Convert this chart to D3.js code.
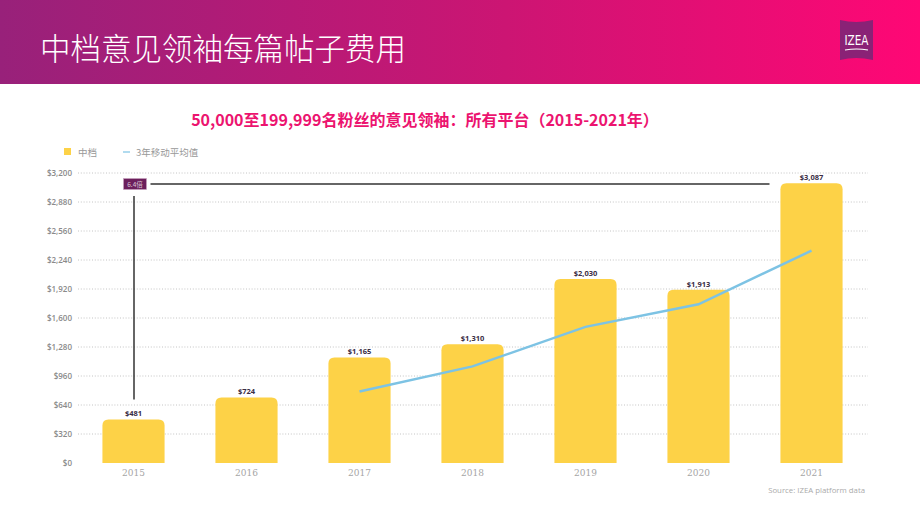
<!DOCTYPE html>
<html lang="zh">
<head>
<meta charset="utf-8">
<title>中档意见领袖每篇帖子费用</title>
<script src="https://cdnjs.cloudflare.com/ajax/libs/d3/7.8.5/d3.min.js"></script>
<style>
  html, body { margin: 0; padding: 0; background: #fff; }
  svg { display: block; }
  .grid line { stroke: #c4c4c4; stroke-dasharray: 1 1.8; }
  .y-axis text { fill: #8a8a8a; font: 600 8px "Open Sans", sans-serif; }
  .x-axis text { fill: #a5a5a5; font: 9px "DejaVu Serif", "Liberation Serif", serif; }
</style>
</head>
<body>
<div id="chart"></div>
<script>
const width = 920;
const height = 518;

// data
const years = ["2015", "2016", "2017", "2018", "2019", "2020", "2021"];
const midTier = [481, 724, 1165, 1310, 2030, 1913, 3087];
const avgYears = ["2017", "2018", "2019", "2020", "2021"];
const movingAvg = [790, 1066, 1502, 1751, 2343];
const yTicks = [0, 320, 640, 960, 1280, 1600, 1920, 2240, 2560, 2880, 3200];

const svg = d3.select("#chart").append("svg")
  .attr("width", width)
  .attr("height", height)
  .attr("viewBox", [0, 0, width, height]);

// header band
const grad = svg.append("defs").append("linearGradient")
  .attr("id", "hdr").attr("x1", "0%").attr("x2", "100%");
grad.append("stop").attr("offset", "0%").attr("stop-color", "#98217a");
grad.append("stop").attr("offset", "55%").attr("stop-color", "#cc1573");
grad.append("stop").attr("offset", "100%").attr("stop-color", "#ff0775");

svg.append("rect").attr("width", width).attr("height", 84).attr("fill", "url(#hdr)");
svg.append("text")
  .attr("x", 40).attr("y", 60)
  .attr("fill", "#fff")
  .style("font", "300 30.5px 'Noto Sans CJK SC', sans-serif")
  .text("中档意见领袖每篇帖子费用");

// logo
const logo = svg.append("g").attr("transform", "translate(840,20)");
logo.append("path")
  .attr("d", "M0,0 Q16,4 33,0 L33,40 Q16,36 0,40 Z")
  .attr("fill", "#8a2276");
logo.append("text")
  .attr("x", 16.5).attr("y", 25)
  .attr("text-anchor", "middle")
  .attr("fill", "#fff")
  .attr("textLength", 24)
  .attr("lengthAdjust", "spacingAndGlyphs")
  .style("font", "14px 'DejaVu Sans Condensed', 'DejaVu Sans', sans-serif")
  .text("IZEA");
logo.append("path")
  .attr("d", "M5,30 Q16.5,28 28,30")
  .attr("fill", "none").attr("stroke", "#fff").attr("stroke-width", 1.2);

// subtitle
svg.append("text")
  .attr("x", 425).attr("y", 126)
  .attr("text-anchor", "middle")
  .attr("fill", "#ec146f")
  .style("font", "700 16px 'Noto Sans CJK SC', sans-serif")
  .text("50,000至199,999名粉丝的意见领袖：所有平台（2015-2021年）");

// legend
const legend = svg.append("g").style("font", "9.5px 'Noto Sans CJK SC', sans-serif").attr("fill", "#999");
legend.append("rect").attr("x", 64).attr("y", 148).attr("width", 7).attr("height", 7).attr("fill", "#fdd247");
legend.append("text").attr("x", 78).attr("y", 155.5).text("中档");
legend.append("line").attr("x1", 123).attr("x2", 130).attr("y1", 152).attr("y2", 152)
  .attr("stroke", "#7dc3e4").attr("stroke-width", 1.2);
legend.append("text").attr("x", 136).attr("y", 155.5).text("3年移动平均值");

// scales
const x = d3.scaleBand().domain(years).range([77, 868]).paddingInner(0.45).paddingOuter(0.225);
const y = d3.scaleLinear().domain([0, 3200]).range([463, 173]);

// grid
svg.append("g").attr("class", "grid")
  .selectAll("line").data(yTicks.slice(1)).join("line")
  .attr("x1", 78).attr("x2", 868)
  .attr("y1", d => y(d)).attr("y2", d => y(d));

// y axis
svg.append("g").attr("class", "y-axis")
  .attr("transform", "translate(72,0)")
  .call(d3.axisLeft(y).tickValues(yTicks).tickSize(0).tickPadding(0)
    .tickFormat(d => "$" + d3.format(",")(d)))
  .call(g => g.select(".domain").remove());

// x axis
svg.append("g").attr("class", "x-axis")
  .attr("transform", "translate(0,466)")
  .call(d3.axisBottom(x).tickSize(0).tickPadding(4))
  .call(g => g.select(".domain").remove());

// bars with rounded tops
const r = 6;
svg.append("g").selectAll("path").data(years).join("path")
  .attr("fill", "#fdd247")
  .attr("d", (d, i) => {
    const x0 = x(d), w = x.bandwidth(), y0 = y(midTier[i]), yb = y(0);
    return `M${x0},${yb} L${x0},${y0 + r} Q${x0},${y0} ${x0 + r},${y0} L${x0 + w - r},${y0} Q${x0 + w},${y0} ${x0 + w},${y0 + r} L${x0 + w},${yb} Z`;
  });

// value labels
svg.append("g").selectAll("text").data(years).join("text")
  .attr("x", d => x(d) + x.bandwidth() / 2)
  .attr("y", (d, i) => y(midTier[i]) - 3)
  .attr("text-anchor", "middle")
  .attr("fill", "#3a2d45")
  .style("font", "700 7.5px 'Open Sans', sans-serif")
  .text((d, i) => "$" + d3.format(",")(midTier[i]));

// moving average line
const line = d3.line()
  .x(d => x(d[0]) + x.bandwidth() / 2)
  .y(d => y(d[1]));
svg.append("path")
  .datum(avgYears.map((d, i) => [d, movingAvg[i]]))
  .attr("fill", "none")
  .attr("stroke", "#7dc3e4")
  .attr("stroke-width", 2.5)
  .attr("d", line);

// 6.4x annotation
const cx15 = x("2015") + x.bandwidth() / 2;
const cx21 = x("2021") + x.bandwidth() / 2;
const annY = 184;
svg.append("line")
  .attr("x1", cx15 + 0.5).attr("x2", cx15 + 0.5)
  .attr("y1", 196).attr("y2", y(midTier[0]) - 20)
  .attr("stroke", "#333").attr("stroke-width", 1.5);
svg.append("line")
  .attr("x1", cx15 + 17).attr("x2", cx21 - 42)
  .attr("y1", annY).attr("y2", annY)
  .attr("stroke", "#333").attr("stroke-width", 1.5);
svg.append("rect")
  .attr("x", cx15 - 10).attr("y", annY - 5.5)
  .attr("width", 23).attr("height", 11)
  .attr("fill", "#6c1f5c").attr("stroke", "#c9a3c0").attr("stroke-width", 0.6);
svg.append("text")
  .attr("x", cx15 + 1.5).attr("y", annY + 2.5)
  .attr("text-anchor", "middle")
  .attr("fill", "#d9c6d6")
  .style("font", "6.5px 'Noto Sans CJK SC', sans-serif")
  .text("6.4倍");

// source
svg.append("text")
  .attr("x", 865).attr("y", 493)
  .attr("text-anchor", "end")
  .attr("fill", "#aaa")
  .style("font", "7.8px 'Open Sans', sans-serif")
  .text("Source: IZEA platform data");
</script>
</body>
</html>
